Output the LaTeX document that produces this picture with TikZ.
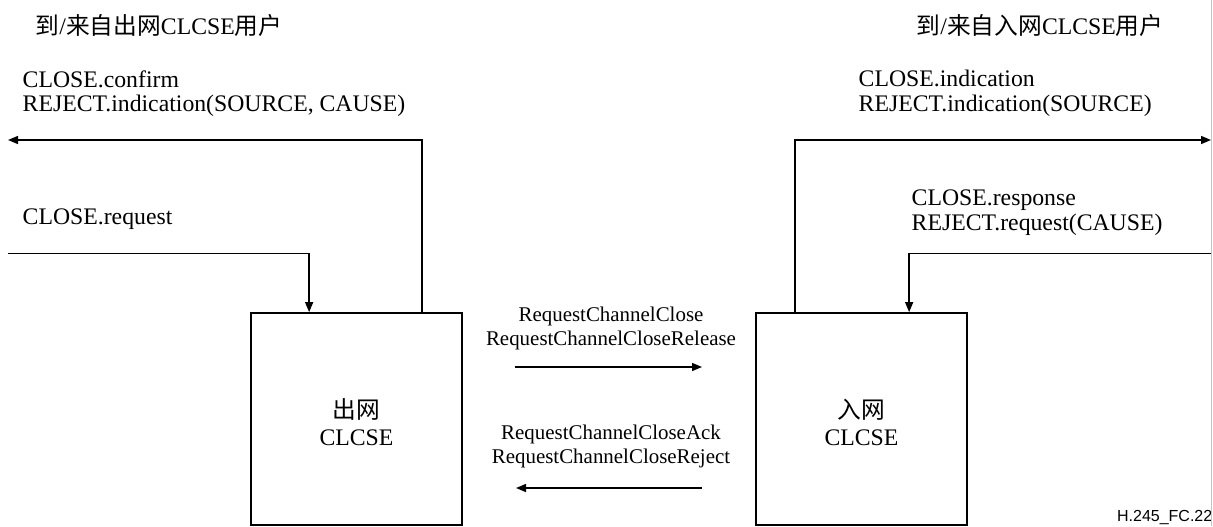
\documentclass[tikz,border=0pt]{standalone}
\usepackage{fontspec}
\setmainfont{Liberation Serif}
\setsansfont{Liberation Sans}
\newfontfamily\cjk{Noto Sans CJK SC}
\usetikzlibrary{arrows.meta,calc}
\definecolor{edgepink}{RGB}{245,175,175}

\begin{document}
\begin{tikzpicture}[x=0.75pt,y=-0.75pt,line width=1.1pt,
  sig/.style={-{Triangle[length=7.5pt,width=6pt]}},
  blk/.style={draw,line width=1.3pt,minimum width=158.25pt,minimum height=159pt,
    align=center,font=\fontsize{17.8}{20.2}\selectfont},
  lbl/.style={anchor=west,align=left,inner sep=0pt,font=\fontsize{17.8}{18.4}\selectfont},
  msg/.style={align=center,inner sep=0pt,font=\fontsize{15.7}{17.5}\selectfont}]
  \useasboundingbox (0,0) rectangle (1213,526);
  \node[blk] (outCL) at (356.5,419) {{\cjk 出网}\rule{0pt}{19.5pt}\\CLCSE};
  \node[blk] (inCL) at (861.5,419) {{\cjk 入网}\rule{0pt}{19.5pt}\\CLCSE};
  \node[lbl] (usrL) at (35,25) {{\cjk 到}/{\cjk 来自出网}CLCSE{\cjk 用户}};
  \node[lbl] (usrR) at (916,25) {{\cjk 到}/{\cjk 来自入网}CLCSE{\cjk 用户}};
  \node[lbl] (cfmL) at (22,93.5) {CLOSE.confirm\\REJECT.indication(SOURCE, CAUSE)};
  \node[lbl,anchor=base west] (reqL) at (22,224.3) {CLOSE.request};
  \node[lbl] (indR) at (858,93.5) {CLOSE.indication\\REJECT.indication(SOURCE)};
  \node[lbl] (rspR) at (911,212.5) {CLOSE.response\\REJECT.request(CAUSE)};
  \node[msg] (fwdTxt) at (611,328.5) {RequestChannelClose\\RequestChannelCloseRelease};
  \node[msg] (bwdTxt) at (611,446.5) {RequestChannelCloseAck\\RequestChannelCloseReject};
  \node[anchor=east,inner sep=0pt,font=\sffamily\fontsize{12}{12}\selectfont] (figId)
    at (1213,517) {H.245\_FC.22};
  \coordinate (cfmEnd) at (8,140);
  \coordinate (reqStart) at (8,253.5);
  \coordinate (indEnd) at (1211,140);
  \coordinate (rspStart) at (1211,253.5);
  \coordinate (fwdA) at (515,367);
  \coordinate (fwdB) at (702,367);
  \coordinate (bwdA) at (702,488);
  \coordinate (bwdB) at (516,488);
  \draw[edgepink,line width=0.6pt] (1211.5,0) -- (1211.5,526);
  \draw[sig] ($(outCL.north west)+(172,0)$) |- (cfmEnd);
  \draw[sig] (reqStart) -| ($(outCL.north west)+(59,0)$);
  \draw[sig] ($(inCL.north west)+(40,0)$) |- (indEnd);
  \draw[sig] (rspStart) -| ($(inCL.north west)+(154,0)$);
  \draw[sig] (fwdA) -- (fwdB);
  \draw[sig] (bwdA) -- (bwdB);
\end{tikzpicture}
\end{document}
